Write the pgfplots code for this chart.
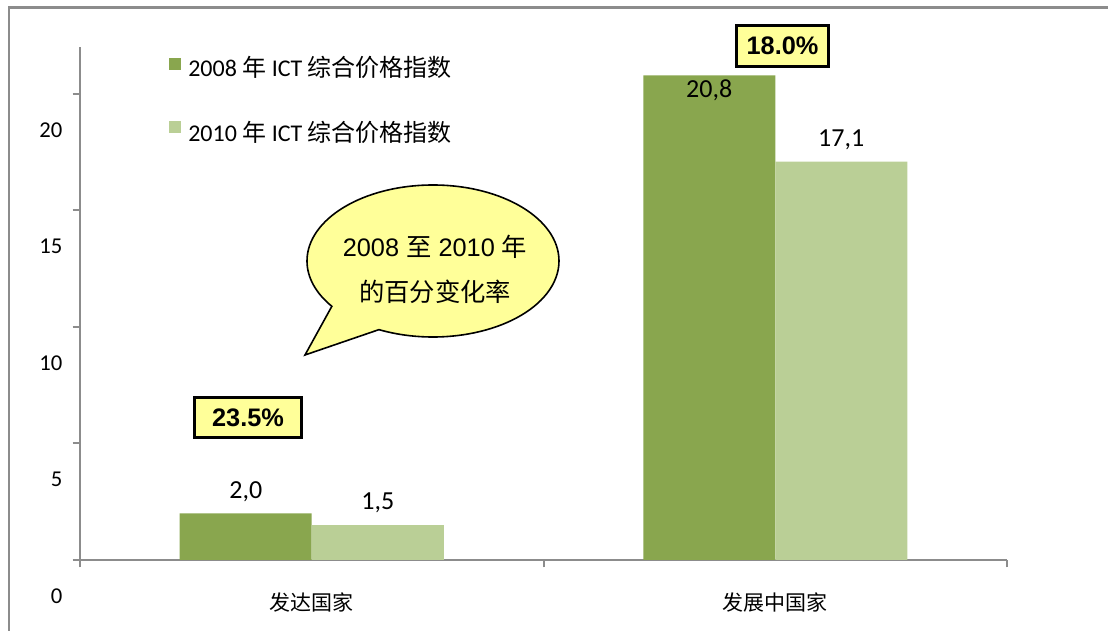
\documentclass[border=0pt]{standalone}
\usepackage{pgfplots}
\pgfplotsset{compat=1.18}
\usepackage{fontspec}
\setmainfont{Carlito}
\newfontfamily\arial{Liberation Sans}
\newfontfamily\cjk{Noto Sans CJK SC}
\usetikzlibrary{shapes.callouts}
\definecolor{dgreen}{HTML}{89A64E}
\definecolor{lgreen}{HTML}{BACF96}
\definecolor{axgray}{HTML}{8C8C8C}
\definecolor{byellow}{HTML}{FFFF99}
\tikzset{img/.style={x=0.75pt,y=-0.75pt,shift={(-60pt,420pt)}}}
\begin{document}
\begin{tikzpicture}
\begin{scope}[img]
\useasboundingbox (0,0) rectangle (1108,631);
\draw[axgray, line width=1.6pt] (9,660) -- (9,7.5) -- (1130,7.5);
\end{scope}
\begin{axis}[
  at={(0,0)}, anchor=south west,
  scale only axis, width=695.25pt, height=384.5pt,
  xmin=-0.5, xmax=1.5, ymin=0, ymax=22,
  axis lines=left,
  axis line style={-, draw=axgray, line width=1.8pt},
  ybar=0pt, bar width=99pt,
  xtick={-0.5,0.5,1.5}, xticklabels={,,},
  ytick={0,5,10,15,20},
  tick style={draw=axgray, line width=1.5pt},
  tick align=outside, major tick length=5.5pt,
  /pgf/number format/assume math mode=true,
  yticklabel style={font=\fontsize{17}{19}\selectfont, anchor=east, inner sep=0pt, xshift=-7.5pt, yshift=-27pt},
  clip=false,
  nodes near coords={\pgfmathprintnumber[fixed,fixed zerofill,precision=1,use comma,assume math mode=true]{\pgfplotspointmeta}},
  every node near coord/.append style={font=\fontsize{19.5}{21}\selectfont, anchor=center, text=black},
]
\addplot[fill=dgreen, draw=none,
  visualization depends on={rawy \as \rawy},
  every node near coord/.append style={yshift={ifthenelse(\rawy>20,-11.25,16.5)*1pt}}]
  coordinates {(0,2.0) (1,20.8)};
\addplot[fill=lgreen, draw=none,
  every node near coord/.append style={yshift=16.5pt}]
  coordinates {(0,1.5) (1,17.1)};
\node[font=\cjk\fontsize{15.75}{18}\selectfont] at (axis cs:0,0) [yshift=-31.5pt] {发达国家};
\node[font=\cjk\fontsize{15.75}{18}\selectfont] at (axis cs:1,0) [yshift=-31.5pt] {发展中国家};
\end{axis}
\begin{scope}[img]
% legend
\fill[dgreen] (169,58) rectangle (181,70);
\fill[lgreen] (169,121) rectangle (181,133);
\node[anchor=base west, inner sep=0pt, font=\fontsize{18}{20}\selectfont] at (188,77) {2008 {\cjk 年} ICT {\cjk 综合价格指数}};
\node[anchor=base west, inner sep=0pt, font=\fontsize{18}{20}\selectfont] at (188,142) {2010 {\cjk 年} ICT {\cjk 综合价格指数}};
% callout
\coordinate (tip) at (305,355);
\node[ellipse callout, draw=black, line width=1.2pt, fill=byellow,
  minimum width=189pt, minimum height=114pt, inner sep=0pt,
  callout absolute pointer={(tip)}, callout pointer arc=28] at (433,261) {};
\node[align=center, font=\arial\fontsize{19}{33.75}\selectfont] at (435,269.5)
  {2008 {\cjk 至} 2010 {\cjk 年}\\{\cjk 的百分变化率}};
% percentage boxes
\node[draw=black, line width=2.4pt, fill=byellow, minimum width=80pt, minimum height=30pt, inner sep=0pt,
  font=\arial\bfseries\fontsize{19}{22}\selectfont] at (248,417.5) {23.5\%};
\node[draw=black, line width=2.4pt, fill=byellow, minimum width=69pt, minimum height=30.75pt, inner sep=0pt,
  font=\arial\bfseries\fontsize{19}{22}\selectfont] at (782.5,46) {18.0\%};
\end{scope}
\end{tikzpicture}
\end{document}
